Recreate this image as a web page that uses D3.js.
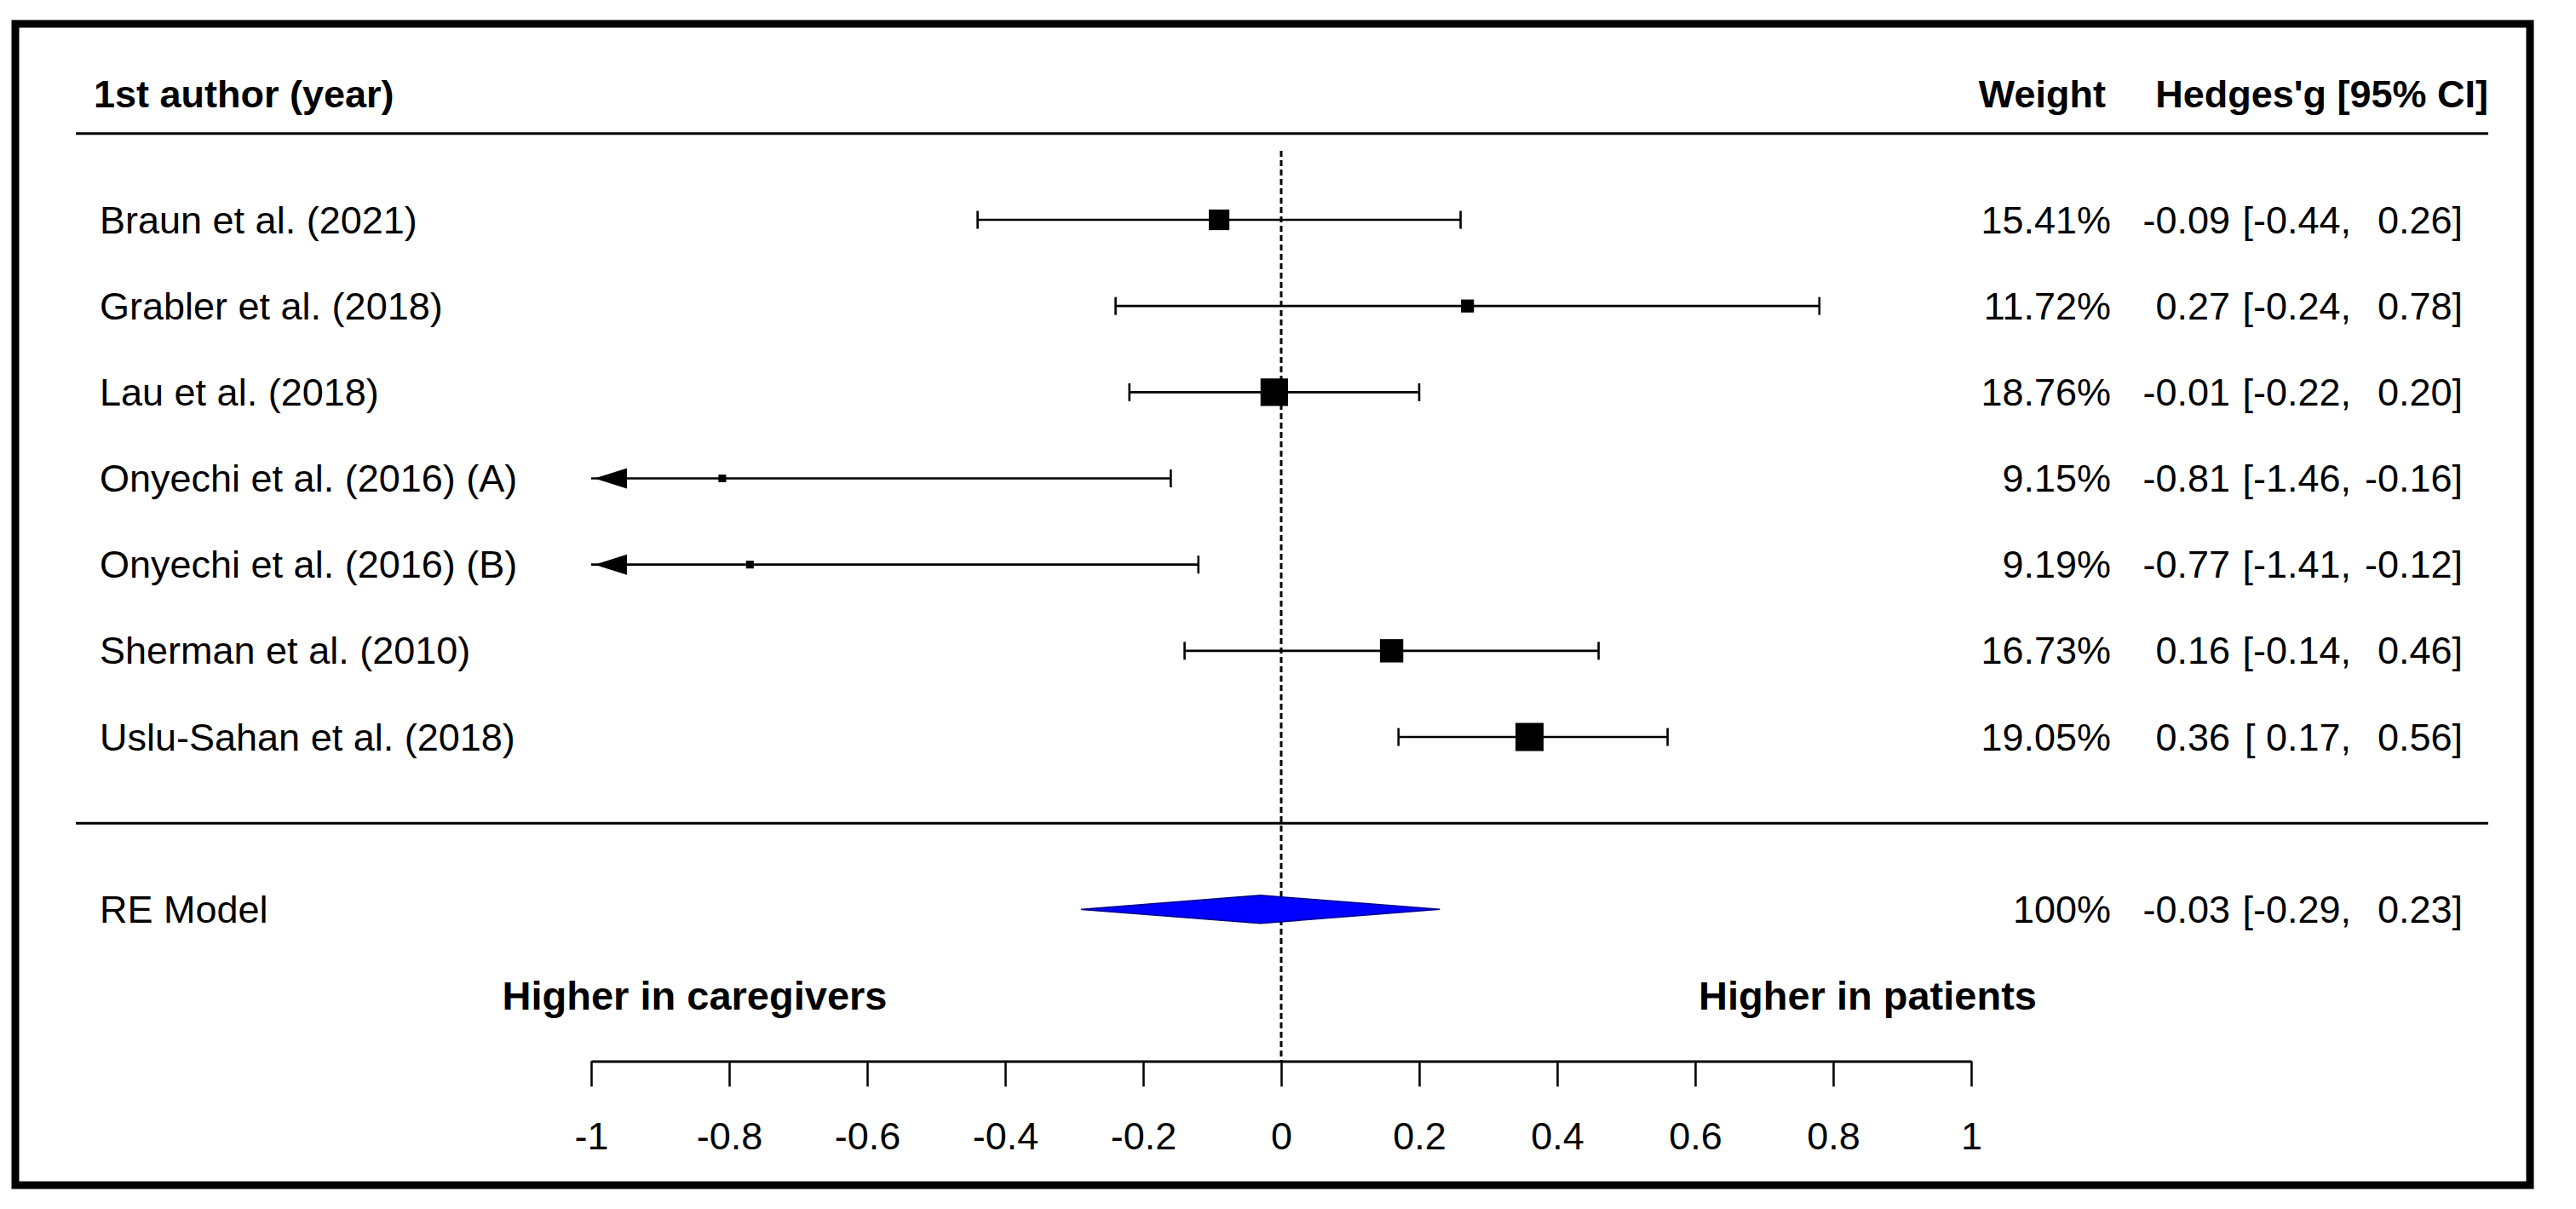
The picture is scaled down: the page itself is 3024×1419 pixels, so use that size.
<!DOCTYPE html>
<html>
<head>
<meta charset="utf-8">
<script src="https://cdn.jsdelivr.net/npm/d3@7"></script>
<style>
  html, body { margin: 0; padding: 0; background: #fff; }
  svg { display: block; font-family: "Liberation Sans", Arial, sans-serif; }
</style>
</head>
<body>
<div id="chart"></div>
<script>
// forest plot: Hedges' g per study + RE model

const studies = [
  "Braun et al. (2021)",
  "Grabler et al. (2018)",
  "Lau et al. (2018)",
  "Onyechi et al. (2016) (A)",
  "Onyechi et al. (2016) (B)",
  "Sherman et al. (2010)",
  "Uslu-Sahan et al. (2018)"
];
const weights = [15.41, 11.72, 18.76, 9.15, 9.19, 16.73, 19.05];
const estimates = [-0.09, 0.27, -0.01, -0.81, -0.77, 0.16, 0.36];
const lowers = [-0.44, -0.24, -0.22, -1.46, -1.41, -0.14, 0.17];
const uppers = [0.26, 0.78, 0.20, -0.16, -0.12, 0.46, 0.56];

const modelLabel = "RE Model";
const modelWeight = 100;
const modelEst = -0.03, modelLower = -0.29, modelUpper = 0.23;

const tickVals = [-1, -0.8, -0.6, -0.4, -0.2, 0, 0.2, 0.4, 0.6, 0.8, 1];
const headers = ["1st author (year)", "Weight", "Hedges'g [95% CI]"];
const sideLabels = ["Higher in caregivers", "Higher in patients"];

const width = 3024, height = 1419;
const fs = 45;

const svg = d3.select("#chart").append("svg")
  .attr("width", width)
  .attr("height", height);

svg.append("rect").attr("width", width).attr("height", height).attr("fill", "#fff");

// frame
svg.append("rect")
  .attr("x", 18).attr("y", 28)
  .attr("width", 2952).attr("height", 1363)
  .attr("fill", "none")
  .attr("stroke", "#000")
  .attr("stroke-width", 9);

const x = d3.scaleLinear().domain([-1, 1]).range([694, 2314]);
// row positions: studies at 7..1, lines at 8 and 0, model at -1
const y = d3.scaleLinear().domain([7, 1]).range([258, 865]);
const size = d3.scaleLinear().domain([d3.min(weights), d3.max(weights)]).range([9, 33]);

const rows = studies.map((s, i) => ({
  name: s, w: weights[i], est: estimates[i], lo: lowers[i], hi: uppers[i], pos: studies.length - i
}));

const lineL = 89, lineR = 2921;
const labelX = 117;
const weightX = 2478, estX = 2618, loX = 2760, hiX = 2891;

// header
svg.append("text").text(headers[0])
  .attr("x", 110).attr("y", 110)
  .attr("font-size", fs).attr("font-weight", "bold")
  .attr("dominant-baseline", "central");
svg.append("text").text(headers[1])
  .attr("x", 2472).attr("y", 110)
  .attr("font-size", fs).attr("font-weight", "bold")
  .attr("text-anchor", "end")
  .attr("dominant-baseline", "central");
svg.append("text").text(headers[2])
  .attr("x", lineR).attr("y", 110)
  .attr("font-size", fs).attr("font-weight", "bold")
  .attr("text-anchor", "end")
  .attr("dominant-baseline", "central");

// horizontal separators
[8, 0].forEach(p => {
  svg.append("line")
    .attr("x1", lineL).attr("x2", lineR)
    .attr("y1", y(p)).attr("y2", y(p))
    .attr("stroke", "#000").attr("stroke-width", 3);
});

// reference line at 0
svg.append("line")
  .attr("x1", x(0)).attr("x2", x(0))
  .attr("y1", y(7.8)).attr("y2", y(-2.76))
  .attr("stroke", "#000").attr("stroke-width", 3)
  .attr("stroke-dasharray", "7,4");

// study rows
const g = svg.append("g");
const row = g.selectAll("g.row").data(rows).enter().append("g").attr("class", "row");

row.append("line")
  .attr("x1", d => x(Math.max(d.lo, -1)))
  .attr("x2", d => x(Math.min(d.hi, 1)))
  .attr("y1", d => y(d.pos)).attr("y2", d => y(d.pos))
  .attr("stroke", "#000").attr("stroke-width", 2.6);

// end caps (only when inside the axis limits)
row.filter(d => d.lo >= -1).append("line")
  .attr("x1", d => x(d.lo)).attr("x2", d => x(d.lo))
  .attr("y1", d => y(d.pos) - 10.5).attr("y2", d => y(d.pos) + 10.5)
  .attr("stroke", "#000").attr("stroke-width", 2.6);
row.filter(d => d.hi <= 1).append("line")
  .attr("x1", d => x(d.hi)).attr("x2", d => x(d.hi))
  .attr("y1", d => y(d.pos) - 10.5).attr("y2", d => y(d.pos) + 10.5)
  .attr("stroke", "#000").attr("stroke-width", 2.6);

// arrows for truncated CIs
row.filter(d => d.lo < -1).append("path")
  .attr("d", d => {
    const x0 = x(-1), yy = y(d.pos);
    return `M${x0 + 4},${yy} L${x0 + 42},${yy - 12} L${x0 + 42},${yy + 12} Z`;
  })
  .attr("fill", "#000");

row.append("rect")
  .attr("x", d => x(d.est) - size(d.w) / 2)
  .attr("y", d => y(d.pos) - size(d.w) / 2)
  .attr("width", d => size(d.w))
  .attr("height", d => size(d.w))
  .attr("fill", "#000");

// texts
function rowText(sel, getY) {
  sel.append("text").text(d => d.name)
    .attr("x", labelX).attr("y", getY)
    .attr("font-size", fs).attr("dominant-baseline", "central");
  sel.append("text").text(d => d.wText)
    .attr("x", weightX).attr("y", getY)
    .attr("font-size", fs).attr("text-anchor", "end").attr("dominant-baseline", "central");
  sel.append("text").text(d => d.est.toFixed(2))
    .attr("x", estX).attr("y", getY)
    .attr("font-size", fs).attr("text-anchor", "end").attr("dominant-baseline", "central");
  sel.append("text").text(d => "[" + (d.lo < 0 ? "" : " ") + d.lo.toFixed(2) + ",")
    .attr("x", loX).attr("y", getY)
    .attr("font-size", fs).attr("text-anchor", "end").attr("dominant-baseline", "central")
    .style("white-space", "pre");
  sel.append("text").text(d => d.hi.toFixed(2) + "]")
    .attr("x", hiX).attr("y", getY)
    .attr("font-size", fs).attr("text-anchor", "end").attr("dominant-baseline", "central");
}
rows.forEach(r => { r.wText = r.w.toFixed(2) + "%"; });
rowText(row, d => y(d.pos));

// RE model
const model = [{ name: modelLabel, w: modelWeight, wText: modelWeight + "%", est: modelEst, lo: modelLower, hi: modelUpper, pos: -1 }];
const mg = svg.append("g").selectAll("g").data(model).enter().append("g");
mg.append("path")
  .attr("d", d => {
    const yy = y(d.pos);
    return `M${x(d.lo)},${yy} L${x(d.est)},${yy - 16.5} L${x(d.hi)},${yy} L${x(d.est)},${yy + 16.5} Z`;
  })
  .attr("fill", "#0000ff")
  .attr("stroke", "#00008b")
  .attr("stroke-width", 1.5);
rowText(mg, d => y(d.pos));

// side labels
svg.append("text").text(sideLabels[0])
  .attr("x", x(-0.85)).attr("y", y(-2))
  .attr("font-size", 47).attr("font-weight", "bold")
  .attr("text-anchor", "middle").attr("dominant-baseline", "central");
svg.append("text").text(sideLabels[1])
  .attr("x", x(0.85)).attr("y", y(-2))
  .attr("font-size", 47).attr("font-weight", "bold")
  .attr("text-anchor", "middle").attr("dominant-baseline", "central");

// x axis
const axis = svg.append("g")
  .attr("transform", `translate(0,${y(-2.76)})`)
  .call(d3.axisBottom(x)
    .tickValues(tickVals)
    .tickFormat(d => String(d))
    .tickSize(30)
    .tickSizeOuter(0)
    .tickPadding(42));
axis.select(".domain").attr("stroke", "#000").attr("stroke-width", 3);
axis.selectAll(".tick line").attr("stroke", "#000").attr("stroke-width", 2.5);
axis.selectAll(".tick text")
  .attr("font-size", fs)
  .attr("font-family", "Liberation Sans, Arial, sans-serif")
  .attr("fill", "#000");
</script>
</body>
</html>
